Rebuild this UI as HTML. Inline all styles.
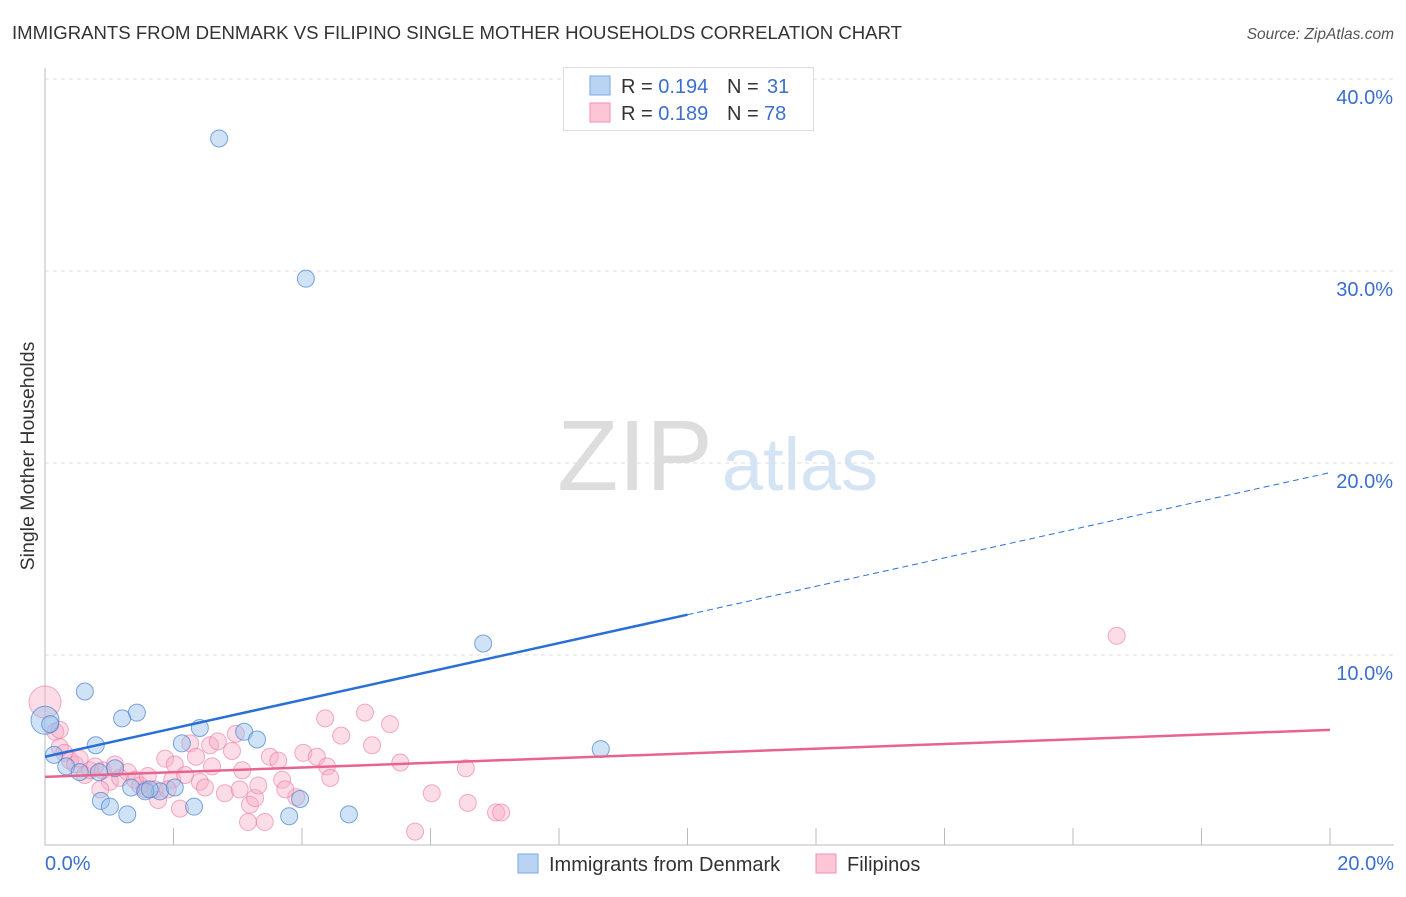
<!DOCTYPE html>
<html><head><meta charset="utf-8"><style>
body{margin:0;background:#fff;font-family:"Liberation Sans",sans-serif;}
svg text{font-family:"Liberation Sans",sans-serif;}
</style></head><body>
<svg id="chart" width="1406" height="892">
<text x="12" y="39" font-size="18" fill="#333" textLength="890" lengthAdjust="spacingAndGlyphs">IMMIGRANTS FROM DENMARK VS FILIPINO SINGLE MOTHER HOUSEHOLDS CORRELATION CHART</text>
<text x="1394" y="39" font-size="15.5" fill="#555" font-style="italic" text-anchor="end">Source: ZipAtlas.com</text>
<text transform="translate(34,456) rotate(-90)" font-size="19.5" fill="#333" text-anchor="middle">Single Mother Households</text>
<g><text x="635" y="490" font-size="100" fill="#ddd" font-family="Liberation Serif" text-anchor="middle">ZIP</text><text x="800" y="490" font-size="74" fill="#d4e4f4" text-anchor="middle">atlas</text></g>
<g id="grid"></g><g id="marks"></g><g id="lines"></g>
<g>
<rect x="563.5" y="67.5" width="250" height="63" fill="#fff" stroke="#ddd"/>
<rect x="590" y="76" width="20" height="19" fill="#b8d4f2" stroke="#7aa8e0"/>
<rect x="590" y="103" width="20" height="19" fill="#fcc6d6" stroke="#f090b0"/>
<text x="621" y="93" font-size="20" fill="#333">R = <tspan fill="#3a6fcf">0.194</tspan></text>
<text x="727" y="93" font-size="20" fill="#333">N = <tspan fill="#3a6fcf" x="767">31</tspan></text>
<text x="621" y="120" font-size="20" fill="#333">R = <tspan fill="#3a6fcf">0.189</tspan></text>
<text x="727" y="120" font-size="20" fill="#333">N = <tspan fill="#3a6fcf" x="764">78</tspan></text>
</g>
<g>
<rect x="518" y="854" width="20" height="19" fill="#b8d4f2" stroke="#7aa8e0"/>
<text x="549" y="871" font-size="20" fill="#333">Immigrants from Denmark</text>
<rect x="816" y="854" width="20" height="19" fill="#fcc6d6" stroke="#f090b0"/>
<text x="847" y="871" font-size="20" fill="#333">Filipinos</text>
</g>
</svg>
<script>
const yTicks=[10,20,30,40];
const yTickLabels=["10.0%","20.0%","30.0%","40.0%"];
const xTickLabels=["0.0%","20.0%"];
const blueX=[2.71,4.06,6.82,8.65,0.62,1.43,1.20,2.41,3.10,3.30,0.79,2.13,0.14,0.33,0.54,1.09,0.84,1.34,1.79,1.56,2.02,0.87,1.01,2.32,1.28,3.80,4.73,3.97,0.0,0.08,1.63];
const blueY=[36.9,29.6,10.6,5.1,8.1,7.0,6.7,6.2,6.0,5.6,5.3,5.4,4.8,4.2,3.9,4.1,3.9,3.1,2.9,2.9,3.1,2.4,2.1,2.1,1.7,1.6,1.7,2.5,6.6,6.4,3.0];
const pinkX=[16.68,0,0.16,0.23,0.30,0.39,0.47,0.62,0.70,0.78,0.90,1.01,1.17,1.29,1.40,1.48,1.60,1.71,1.76,1.87,1.98,2.02,2.10,2.18,2.26,2.35,2.41,2.49,2.60,2.57,2.69,2.80,2.91,2.97,3.03,3.07,3.19,3.27,3.16,3.42,3.32,3.50,3.63,3.69,3.91,4.02,4.23,4.36,4.39,4.44,4.61,4.98,5.09,5.37,5.53,5.76,6.02,6.55,6.58,7.02,7.10,0.23,0.54,0.86,1.09,1.56,1.91,3.74];
const pinkY=[11.0,7.55,6.0,5.2,4.9,4.5,4.3,3.75,4.0,4.2,4.0,3.4,3.6,3.9,3.5,3.2,3.7,3.0,2.45,4.6,3.5,4.3,2.0,3.75,5.4,4.7,3.4,3.1,4.2,5.3,5.5,2.8,5.0,5.9,3.0,4.0,2.2,2.55,1.3,1.3,3.2,4.7,4.5,3.5,2.6,4.9,4.7,6.7,4.2,3.6,5.8,7.0,5.3,6.4,4.4,0.8,2.8,4.1,2.3,1.8,1.8,6.1,4.6,3.0,4.3,3.0,3.0,3.0];
const blueTrend=[4.7,19.5];
const pinkTrend=[3.65,6.1];
const NS="http://www.w3.org/2000/svg";
const X0=45,X1=1330,YB=847,YPER=19.2;
const sx=v=>X0+v*(X1-X0)/20;
const sy=v=>YB-v*YPER;
function mk(tag,attrs,parent){const e=document.createElementNS(NS,tag);for(const k in attrs)e.setAttribute(k,attrs[k]);parent.appendChild(e);return e;}
const grid=document.getElementById('grid');
yTicks.forEach((t,i)=>{
 const l=mk('line',{x1:X0,x2:1394,y1:sy(t),y2:sy(t),stroke:'#ddd','stroke-dasharray':'4,4'},grid);
 
 
 const tx=mk('text',{x:1393,y:sy(t)+25,'font-size':20,fill:'#3a6fcf','text-anchor':'end'},grid);
 tx.textContent=yTickLabels[i];
 
 
});
const ax=mk('path',{d:`M${X0} 68V845H1394`,stroke:'#bbb',fill:'none'},grid);


for(let i=1;i<=10;i++){
 const t=mk('line',{x1:sx(i*2),x2:sx(i*2),y1:828,y2:845,stroke:'#bbb'},grid);
 
 
}
[[0,'start',45],[20,'end',1394]].forEach((d,i)=>{
 const tx=mk('text',{x:d[2],y:870,'font-size':20,fill:'#3a6fcf','text-anchor':d[1]},grid);
 tx.textContent=xTickLabels[i];
 
 
});
const marks=document.getElementById('marks');
pinkX.forEach((x,i)=>{
 const c=mk('circle',{cx:sx(x),cy:sy(pinkY[i]),r:(i==1?16:8.5),fill:'rgba(248,170,195,0.4)',stroke:'rgba(235,120,160,0.6)','stroke-width':1},marks);
 
 
});
blueX.forEach((x,i)=>{
 const c=mk('circle',{cx:sx(x),cy:sy(blueY[i]),r:(i==28?14:8.5),fill:'rgba(150,190,235,0.45)',stroke:'rgba(70,130,210,0.7)','stroke-width':1},marks);
 
 
});
const lines=document.getElementById('lines');
const bAt=x=>blueTrend[0]+(blueTrend[1]-blueTrend[0])*x/20;
const b1=mk('line',{x1:sx(0),y1:sy(bAt(0)),x2:sx(10),y2:sy(bAt(10)),stroke:'#2a6fd6','stroke-width':2.5},lines);


const b2=mk('line',{x1:sx(10),y1:sy(bAt(10)),x2:sx(20),y2:sy(bAt(20)),stroke:'#2a6fd6','stroke-width':1,'stroke-dasharray':'6,4'},lines);


const p1=mk('line',{x1:sx(0),y1:sy(pinkTrend[0]),x2:sx(20),y2:sy(pinkTrend[1]),stroke:'#e8648f','stroke-width':2.5},lines);


</script>
</body></html>
